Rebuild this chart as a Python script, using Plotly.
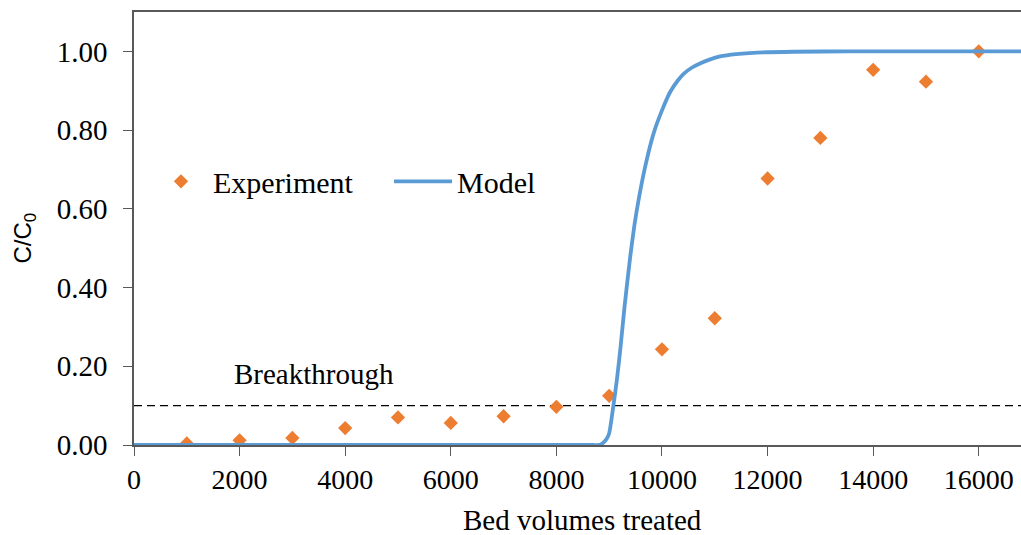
import plotly.graph_objects as go

# Experimental data (bed volumes, C/C0)
exp_bv = [1000, 2000, 3000, 4000, 5000, 6000, 7000, 8000,
          9000, 10000, 11000, 12000, 13000, 14000, 15000, 16000]
exp_c = [0.004, 0.012, 0.018, 0.043, 0.070, 0.056, 0.073, 0.097,
         0.125, 0.243, 0.322, 0.677, 0.780, 0.953, 0.923, 1.000]

# Model curve
model_bv = [0, 8700, 8800, 8850, 8900, 8950, 9000, 9080, 9150, 9220, 9290,
            9400, 9480, 9560, 9680, 9840, 10000, 10160, 10300, 10410, 10570,
            10730, 10900, 11100, 11400, 11800, 12500, 13500, 16800]
model_c = [0.0, 0.0, 0.0, 0.002, 0.007, 0.015, 0.030, 0.100, 0.170, 0.255, 0.350,
           0.480, 0.560, 0.625, 0.706, 0.791, 0.850, 0.898, 0.926, 0.943, 0.959,
           0.970, 0.979, 0.987, 0.993, 0.997, 0.999, 1.000, 1.000]

breakthrough = 0.1
x_ticks = [0, 2000, 4000, 6000, 8000, 10000, 12000, 14000, 16000]
y_ticks = [0.0, 0.2, 0.4, 0.6, 0.8, 1.0]

SERIF = "Liberation Serif, Times New Roman, serif"
AXIS_COL = "#595959"

fig = go.Figure()
fig.add_trace(go.Scatter(
    x=exp_bv, y=exp_c, mode="markers", name="Experiment", legend="legend",
    marker=dict(symbol="diamond", size=11, color="#ED7D31"),
))
fig.add_trace(go.Scatter(
    x=model_bv, y=model_c, mode="lines", name="Model", legend="legend2",
    line=dict(color="#5B9BD5", width=3.8, shape="spline", smoothing=0.6),
))

fig.add_shape(type="line", xref="paper", yref="y", x0=0, x1=1,
              y0=breakthrough, y1=breakthrough,
              line=dict(color="black", width=1.3, dash="8px,5px"), layer="below")
fig.add_annotation(x=3400, y=0.18, text="Breakthrough", showarrow=False,
                   font=dict(family=SERIF, size=29, color="black"),
                   xanchor="center", yanchor="middle")
fig.add_annotation(xref="paper", yref="paper", x=-0.124, y=0.477,
                   text="C/C<sub>0</sub>", showarrow=False, textangle=-90,
                   font=dict(family="Liberation Sans, Arial, sans-serif", size=24, color="black"),
                   xanchor="center", yanchor="middle")
fig.add_annotation(xref="paper", yref="paper", x=0.5056, y=0, yshift=-75,
                   text="Bed volumes treated", showarrow=False,
                   font=dict(family=SERIF, size=29, color="black"),
                   xanchor="center", yanchor="middle")

legend_font = dict(family=SERIF, size=30, color="black")
fig.update_layout(
    width=1021, height=535,
    margin=dict(l=134, r=0, t=12, b=90),
    paper_bgcolor="white", plot_bgcolor="white",
    font=dict(family=SERIF, size=28, color="black"),
    showlegend=True,
    legend=dict(x=0.0169, y=0.609, xanchor="left", yanchor="middle",
                font=legend_font, bgcolor="rgba(0,0,0,0)", itemwidth=54),
    legend2=dict(x=0.2875, y=0.609, xanchor="left", yanchor="middle",
                 font=legend_font, bgcolor="rgba(0,0,0,0)", itemwidth=58),
    xaxis=dict(range=[0, 16800], tickvals=x_ticks, tickformat="d", automargin=False,
               showline=True, linecolor=AXIS_COL, linewidth=1.5, mirror=True,
               ticks="outside", ticklen=9, tickcolor=AXIS_COL, tickwidth=1.3,
               tickfont=dict(family=SERIF, size=28),
               showgrid=False, zeroline=False),
    yaxis=dict(range=[0, 1.1], tickvals=y_ticks, tickformat=".2f", automargin=False,
               showline=True, linecolor=AXIS_COL, linewidth=1.5,
               ticks="outside", ticklen=9, tickcolor=AXIS_COL, tickwidth=1.3,
               tickfont=dict(family=SERIF, size=29), ticklabelstandoff=10,
               showgrid=False, zeroline=False),
)

fig.write_html(
    "out.html",
    config={"displayModeBar": False},
    post_script="document.body.style.margin='0';document.body.style.overflow='hidden';"
                "document.documentElement.style.overflow='hidden';",
)
